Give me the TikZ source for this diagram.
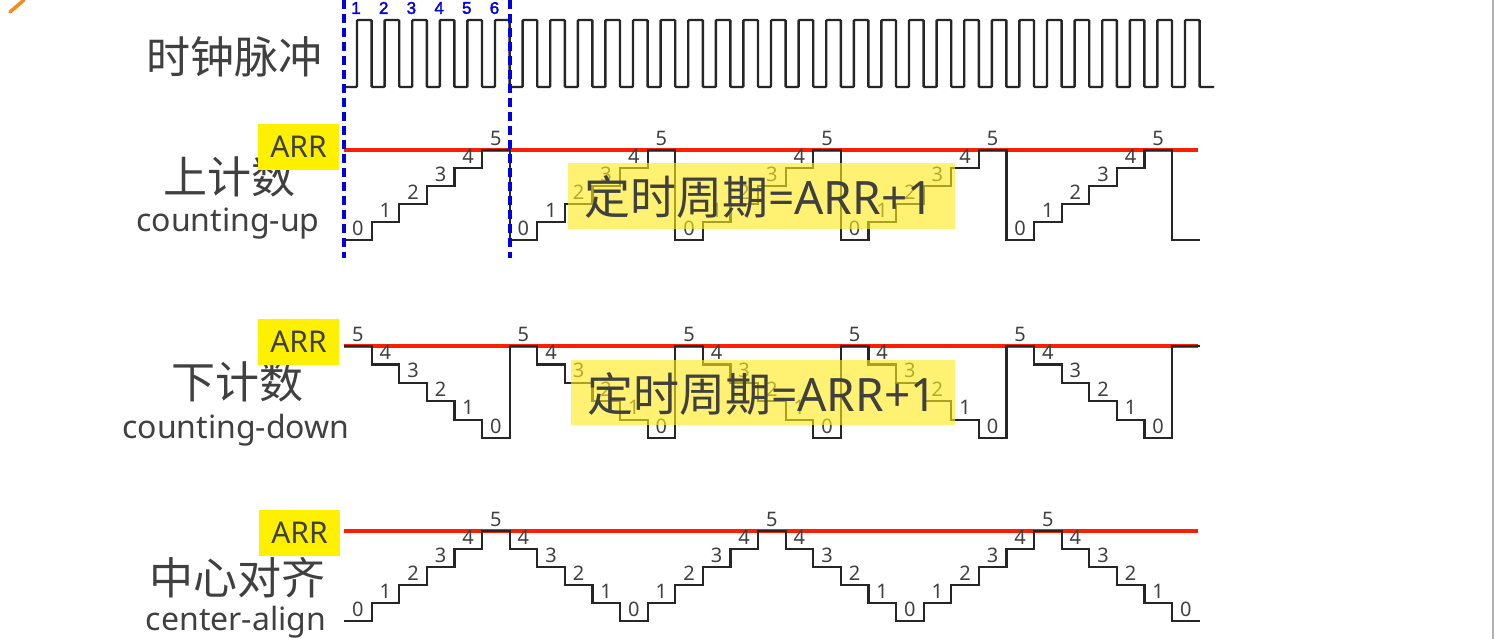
\documentclass[tikz,border=0pt]{standalone}
\usepackage{fontspec}
\setmainfont{Noto Sans}
\newfontfamily\cjk{Noto Sans CJK SC}
\newfontfamily\bluefont[FakeBold=2]{Liberation Sans}
\definecolor{txtgray}{HTML}{404040}
\definecolor{wavecol}{HTML}{262626}
\definecolor{arrred}{HTML}{FF1E00}
\definecolor{arryel}{HTML}{FFF000}
\definecolor{ovyel}{HTML}{FFEB1E}
\definecolor{dashblue}{HTML}{0000E0}
\definecolor{logoorange}{HTML}{F28C1E}
\begin{document}
\begin{tikzpicture}[x=1pt,y=-1pt,
  wave/.style={draw=wavecol, line width=2.2pt, line join=miter},
  clk/.style={draw=wavecol, line width=2.4pt, rounded corners=1pt},
  redline/.style={draw=arrred, line width=4.6pt},
  num/.style={text=txtgray, inner sep=0pt, font=\fontsize{20}{21}\selectfont},
  arrbox/.style={fill=arryel, text=txtgray, minimum width=81pt, minimum height=46pt, inner sep=0pt, font=\fontsize{30}{32}\selectfont},
  bigcjk/.style={text=txtgray, inner sep=0pt, font=\fontsize{44}{48}\selectfont\cjk},
  eng/.style={text=txtgray, inner sep=0pt, anchor=base, font=\fontsize{32}{34}\selectfont},
  overlay/.style={fill=ovyel, fill opacity=0.62, draw=none},
  ovtext/.style={text=txtgray, inner sep=0pt, font=\fontsize{46}{50}\selectfont},
  bluedash/.style={draw=dashblue, line width=3.4pt, dash pattern=on 9pt off 5pt},
  bluenum/.style={text=dashblue, inner sep=0pt, font=\fontsize{17}{18}\selectfont\bluefont}
]
\useasboundingbox (0,0) rectangle (1497,639);
\clip (0,0) rectangle (1497,639);
\fill[white] (0,0) rectangle (1497,639);

% logo fragment and window edge
\draw[logoorange, line width=3.5pt, line cap=round] (10,12) -- (24,0);
\draw[black!30, line width=1.5pt] (1493,0) -- (1493,639);

% left labels
\node[bigcjk] (lclk) at (234,57) {时钟脉冲};
\node[bigcjk] (lup) at (229,177) {上计数};
\node[eng] (lupe) at (228,232) {counting-up};
\node[bigcjk] (ldown) at (237,382) {下计数};
\node[eng] (ldowne) at (236,438) {counting-down};
\node[bigcjk] (lcen) at (237,578) {中心对齐};
\node[eng] (lcene) at (236,630) {center-align};

% ARR red lines
\coordinate (ru0) at (344,150); \coordinate (ru1) at (1198,150);
\coordinate (rd0) at (344,346); \coordinate (rd1) at (1198,346);
\coordinate (rc0) at (344,531); \coordinate (rc1) at (1198,531);
\draw[redline] (ru0) -- (ru1);
\draw[redline] (rd0) -- (rd1);
\draw[redline] (rc0) -- (rc1);

% counting-up staircase
\draw[wave] (344,240) \foreach \i in {0,...,30} { -- ({344+\i*27.6},{240-18*mod(\i,6)}) -- ({344+(\i+1)*27.6},{240-18*mod(\i,6)}) };
\foreach \i in {0,...,29}{
  \pgfmathtruncatemacro\lv{mod(\i,6)}
  \node[num] (u\i) at ({344+(\i+0.5)*27.6},{240-18*\lv-12}) {\lv};
}
% counting-down staircase
\draw[wave] (344,346) \foreach \i in {0,...,30} { -- ({344+\i*27.6},{346+18.4*mod(\i,6)}) -- ({344+(\i+1)*27.6},{346+18.4*mod(\i,6)}) };
\foreach \i in {0,...,29}{
  \pgfmathtruncatemacro\lv{5-mod(\i,6)}
  \node[num] (d\i) at ({344+(\i+0.5)*27.6},{346+18.4*(5-\lv)-12}) {\lv};
}
% center-aligned staircase
\draw[wave] (344,621) \foreach \i in {0,...,30} { -- ({344+\i*27.6},{621-18*(5-abs(5-mod(\i,10)))}) -- ({344+(\i+1)*27.6},{621-18*(5-abs(5-mod(\i,10)))}) };
\foreach \i in {0,...,30}{
  \pgfmathtruncatemacro\lv{5-abs(5-mod(\i,10))}
  \node[num] (c\i) at ({344+(\i+0.5)*27.6},{621-18*\lv-12}) {\lv};
}

% highlighted period boxes
\fill[overlay] (568,163) rectangle (955,229);
\node[ovtext] (pu) at (759,197) {{\cjk 定时周期}=ARR+1};
\fill[overlay] (571,360) rectangle (955,425);
\node[ovtext] (pd) at (762,394) {{\cjk 定时周期}=ARR+1};

% ARR boxes
\node[arrbox] (arru) at (298.5,147) {ARR};
\node[arrbox] (arrd) at (298.5,342) {ARR};
\node[arrbox] (arrc) at (299.5,533) {ARR};

% clock
\draw[clk] (344,87) \foreach \k in {1,...,31} { -- ({344+\k*27.6-14.6},87) -- ({344+\k*27.6-14.6},20) -- ({344+\k*27.6},20) -- ({344+\k*27.6},87) } -- (1214,87);

% blue dashed markers
\coordinate (b0t) at (344,0); \coordinate (b0b) at (344,258);
\coordinate (b1t) at (510,0); \coordinate (b1b) at (510,258);
\draw[bluedash] (b0t) -- (b0b);
\draw[bluedash] (b1t) -- (b1b);
\foreach \k in {1,...,6}{
  \node[bluenum] (n\k) at ({356+(\k-1)*27.7},8) {\k};
}
\end{tikzpicture}
\end{document}
